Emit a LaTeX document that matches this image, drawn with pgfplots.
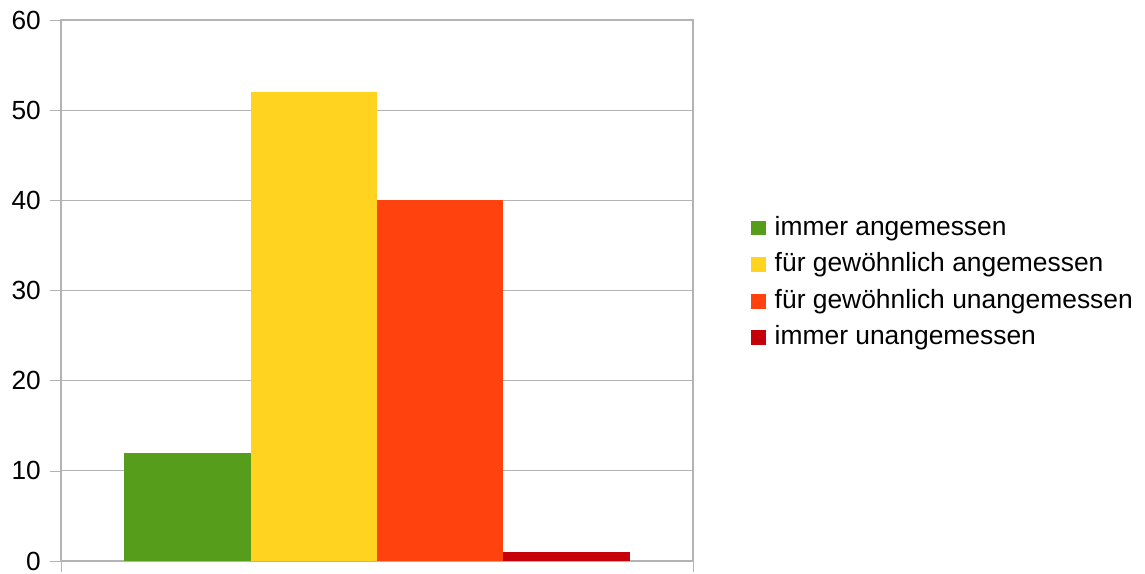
\documentclass[border=0pt]{standalone}
\usepackage{pgfplots}
\pgfplotsset{compat=1.18}
\usepackage{fontspec}
\setmainfont{Liberation Sans}

\definecolor{cgreen}{HTML}{579D1C}
\definecolor{cyellow}{HTML}{FFD320}
\definecolor{corange}{HTML}{FF420E}
\definecolor{cred}{HTML}{C5000B}
\definecolor{cgrid}{HTML}{B3B3B3}

\begin{document}
\begin{tikzpicture}
\begin{axis}[
  scale only axis,
  width=474pt, height=405.75pt,
  xmin=0, xmax=5, ymin=0, ymax=60,
  ytick={0,10,...,60},
  xtick={0,5}, xticklabels={},
  ytick pos=left, xtick pos=bottom,
  ymajorgrids,
  grid style={cgrid, line width=0.9pt},
  axis line style={cgrid, line width=0.9pt},
  tick style={cgrid, line width=0.9pt},
  tick align=outside,
  major tick length=8.5pt,
  every tick/.style={cgrid},
  /pgf/number format/assume math mode=true,
  ticklabel style={font=\fontsize{19.7}{23}\selectfont},
  yticklabel style={inner sep=0pt, xshift=-6.5pt},
  ybar, bar width=1, bar shift=0pt,
  legend cell align=left,
  legend style={draw=none, fill=none, inner sep=0pt, anchor=west,
    at={(1.092,0.514)}, row sep=8.9pt,
    font=\fontsize{19.8}{23}\selectfont,
    nodes={inner sep=0pt, text height=14.5pt, text depth=4pt},
    /tikz/every odd column/.append style={column sep=6.5pt}},
  legend image code/.code={\fill[#1] (0pt,-5.5pt) rectangle (11pt,5.5pt);},
]
\addplot[draw=none, fill=cgreen] coordinates {(1,12)};
\addlegendentry{immer angemessen}
\addplot[draw=none, fill=cyellow] coordinates {(2,52)};
\addlegendentry{für gewöhnlich angemessen}
\addplot[draw=none, fill=corange] coordinates {(3,40)};
\addlegendentry{für gewöhnlich unangemessen}
\addplot[draw=none, fill=cred] coordinates {(4,1)};
\addlegendentry{immer unangemessen}
\end{axis}
\pgfresetboundingbox
\useasboundingbox (-45.75pt,-9.75pt) rectangle (813pt,420.75pt);
\end{tikzpicture}
\end{document}
